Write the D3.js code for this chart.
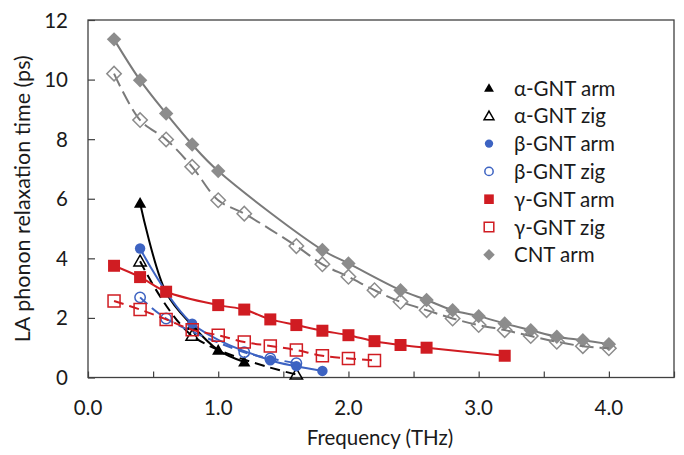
<!DOCTYPE html>
<html>
<head>
<meta charset="utf-8">
<script src="https://cdn.jsdelivr.net/npm/d3@7"></script>
<style>
  html, body { margin: 0; padding: 0; background: #fff; }
  svg { display: block; }
  text { font-family: Lato, "Open Sans", "Noto Sans", sans-serif; fill: #1a1a1a; }
</style>
</head>
<body>
<svg id="chart" width="684" height="455"></svg>
<script>
// ---------------- data ----------------
const xTickValues = [0, 0.5, 1, 1.5, 2, 2.5, 3, 3.5, 4, 4.5];
const xLabelValues = [0, 1, 2, 3, 4];
const xLabelTexts = ["0.0", "1.0", "2.0", "3.0", "4.0"];
const yTickValues = [0, 2, 4, 6, 8, 10, 12];
const yLabelTexts = ["0", "2", "4", "6", "8", "10", "12"];

const alphaArmX = [0.4, 0.6, 0.8, 1.0, 1.2];
const alphaArmY = [5.85, 2.85, 1.75, 0.92, 0.52];
const alphaZigX = [0.4, 0.8, 1.6];
const alphaZigY = [3.9, 1.4, 0.1];
const betaArmX = [0.4, 0.8, 1.4, 1.6, 1.8];
const betaArmY = [4.33, 1.81, 0.58, 0.38, 0.22];
const betaZigX = [0.4, 0.6, 1.2, 1.4, 1.6];
const betaZigY = [2.69, 1.98, 0.85, 0.64, 0.48];
const gammaArmX = [0.2, 0.4, 0.6, 1.0, 1.2, 1.4, 1.6, 1.8, 2.0, 2.2, 2.4, 2.6, 3.2];
const gammaArmY = [3.75, 3.37, 2.88, 2.43, 2.28, 1.95, 1.76, 1.57, 1.42, 1.22, 1.09, 1.0, 0.73];
const gammaZigX = [0.2, 0.4, 0.6, 0.8, 1.0, 1.2, 1.4, 1.6, 1.8, 2.0, 2.2];
const gammaZigY = [2.57, 2.28, 1.95, 1.6, 1.42, 1.19, 1.06, 0.92, 0.73, 0.64, 0.57];
const cntArmX = [0.2, 0.4, 0.6, 0.8, 1.0, 1.8, 2.0, 2.4, 2.6, 2.8, 3.0, 3.2, 3.4, 3.6, 3.8, 4.0];
const cntArmY = [11.35, 9.98, 8.86, 7.82, 6.93, 4.28, 3.83, 2.93, 2.6, 2.26, 2.06, 1.81, 1.59, 1.37, 1.25, 1.12];
const cntZigX = [0.2, 0.4, 0.6, 0.8, 1.0, 1.2, 1.6, 1.8, 2.0, 2.2, 2.4, 2.6, 2.8, 3.0, 3.2, 3.4, 3.6, 3.8, 4.0];
const cntZigY = [10.2, 8.64, 7.99, 7.07, 5.95, 5.5, 4.41, 3.8, 3.38, 2.93, 2.54, 2.26, 1.98, 1.76, 1.59, 1.39, 1.2, 1.05, 0.98];

const legendLabels = ["α-GNT arm", "α-GNT zig", "β-GNT arm", "β-GNT zig", "γ-GNT arm", "γ-GNT zig", "CNT arm"];
const xTitle = "Frequency (THz)";
const yTitle = "LA phonon relaxation time (ps)";

// ---------------- styles ----------------
const RED = "#d01c22", BLUE = "#3d63c2", GRAY = "#8c8c8c", GRAYLINE = "#7a7a7a", BLACK = "#000";
const series = [
  { x: alphaArmX, y: alphaArmY, color: BLACK, lineColor: BLACK, shape: "triangle", filled: true, dash: null, legend: 0 },
  { x: alphaZigX, y: alphaZigY, color: BLACK, lineColor: BLACK, shape: "triangle", filled: false, dash: "10,6", legend: 1 },
  { x: betaArmX, y: betaArmY, color: BLUE, lineColor: BLUE, shape: "circle", filled: true, dash: null, legend: 2 },
  { x: betaZigX, y: betaZigY, color: BLUE, lineColor: BLUE, shape: "circle", filled: false, dash: "10,6", legend: 3 },
  { x: gammaArmX, y: gammaArmY, color: RED, lineColor: RED, shape: "square", filled: true, dash: null, legend: 4 },
  { x: gammaZigX, y: gammaZigY, color: RED, lineColor: RED, shape: "square", filled: false, dash: "10,6", legend: 5 },
  { x: cntArmX, y: cntArmY, color: GRAY, lineColor: GRAYLINE, shape: "diamond", filled: true, dash: null, legend: 6 },
  { x: cntZigX, y: cntZigY, color: GRAY, lineColor: GRAYLINE, shape: "diamond", filled: false, dash: "14,6", legend: -1 }
];

const plot = { left: 88, right: 674, top: 20, bottom: 377.5 };
const svg = d3.select("#chart");
const FS = 20.5;

const x = d3.scaleLinear().domain([0, 4.5]).range([plot.left, plot.right]);
const y = d3.scaleLinear().domain([0, 12]).range([plot.bottom, plot.top]);

// axes (ticks inside)
const axisColor = "#404040";
const gx = svg.append("g").attr("transform", `translate(0,${plot.bottom})`)
  .call(d3.axisBottom(x).tickValues(xTickValues).tickSizeInner(-6).tickSizeOuter(0).tickFormat(""));
const gy = svg.append("g").attr("transform", `translate(${plot.left},0)`)
  .call(d3.axisLeft(y).tickValues(yTickValues).tickSizeInner(-7).tickSizeOuter(0).tickFormat(""));
[gx, gy].forEach(g => {
  g.select(".domain").remove();
  g.selectAll("line").attr("stroke", axisColor).attr("stroke-width", 1.2);
});
svg.append("rect")
  .attr("x", plot.left).attr("y", plot.top)
  .attr("width", plot.right - plot.left).attr("height", plot.bottom - plot.top)
  .attr("fill", "none").attr("stroke", axisColor).attr("stroke-width", 1.3);

// tick labels
svg.append("g").selectAll("text").data(xLabelValues).join("text")
  .attr("x", d => x(d)).attr("y", 415)
  .attr("text-anchor", "middle").attr("font-size", FS)
  .text((d, i) => xLabelTexts[i]);
svg.append("g").selectAll("text").data(yTickValues).join("text")
  .attr("x", 68).attr("y", d => y(d) + 7.5)
  .attr("text-anchor", "end").attr("font-size", FS)
  .text((d, i) => yLabelTexts[i]);

// titles
svg.append("text").attr("x", 380).attr("y", 445).attr("text-anchor", "middle")
  .attr("font-size", FS).text(xTitle);
svg.append("text").attr("transform", `translate(30,${(plot.top + plot.bottom) / 2}) rotate(-90)`)
  .attr("text-anchor", "middle").attr("font-size", 21.5).text(yTitle);

// markers
function symbolPath(shape, big) {
  const k = big ? 1 : 0.8;
  if (shape === "triangle") return d3.symbol(d3.symbolTriangle, 66 * k * k)();
  if (shape === "circle") return d3.symbol(d3.symbolCircle, 85 * k * k)();
  if (shape === "square") return d3.symbol(d3.symbolSquare, 144 * k * k)();
  return d3.symbol(d3.symbolSquare, 104 * k * k)(); // diamond = rotated square
}
function drawMarker(g, s, cx, cy, big) {
  const rot = s.shape === "diamond" ? 45 : 0;
  const dy = s.shape === "triangle" ? 1 : 0;
  g.append("path")
    .attr("d", symbolPath(s.shape, big))
    .attr("transform", `translate(${cx},${cy + dy}) rotate(${rot})`)
    .attr("fill", s.filled ? s.color : "none")
    .attr("stroke", s.color)
    .attr("stroke-width", s.filled ? 0 : 1.5);
}

const line = d3.line().x(d => x(d[0])).y(d => y(d[1])).curve(d3.curveCatmullRom.alpha(0.5));
const dataLayer = svg.append("g");
series.forEach(s => {
  const pts = s.x.map((v, i) => [v, s.y[i]]);
  dataLayer.append("path")
    .attr("d", line(pts))
    .attr("fill", "none")
    .attr("stroke", s.lineColor)
    .attr("stroke-width", 2)
    .attr("stroke-dasharray", s.dash);
  const mg = dataLayer.append("g");
  pts.forEach(p => drawMarker(mg, s, x(p[0]), y(p[1]), true));
});

// legend
const legend = svg.append("g");
const legendTop = 88, legendStep = 27.8;
series.filter(s => s.legend >= 0).forEach(s => {
  const ly = legendTop + s.legend * legendStep;
  drawMarker(legend, s, 489, ly, false);
  legend.append("text").attr("x", 514).attr("y", ly + 7.5)
    .attr("font-size", FS).text(legendLabels[s.legend]);
});
</script>
</body>
</html>
